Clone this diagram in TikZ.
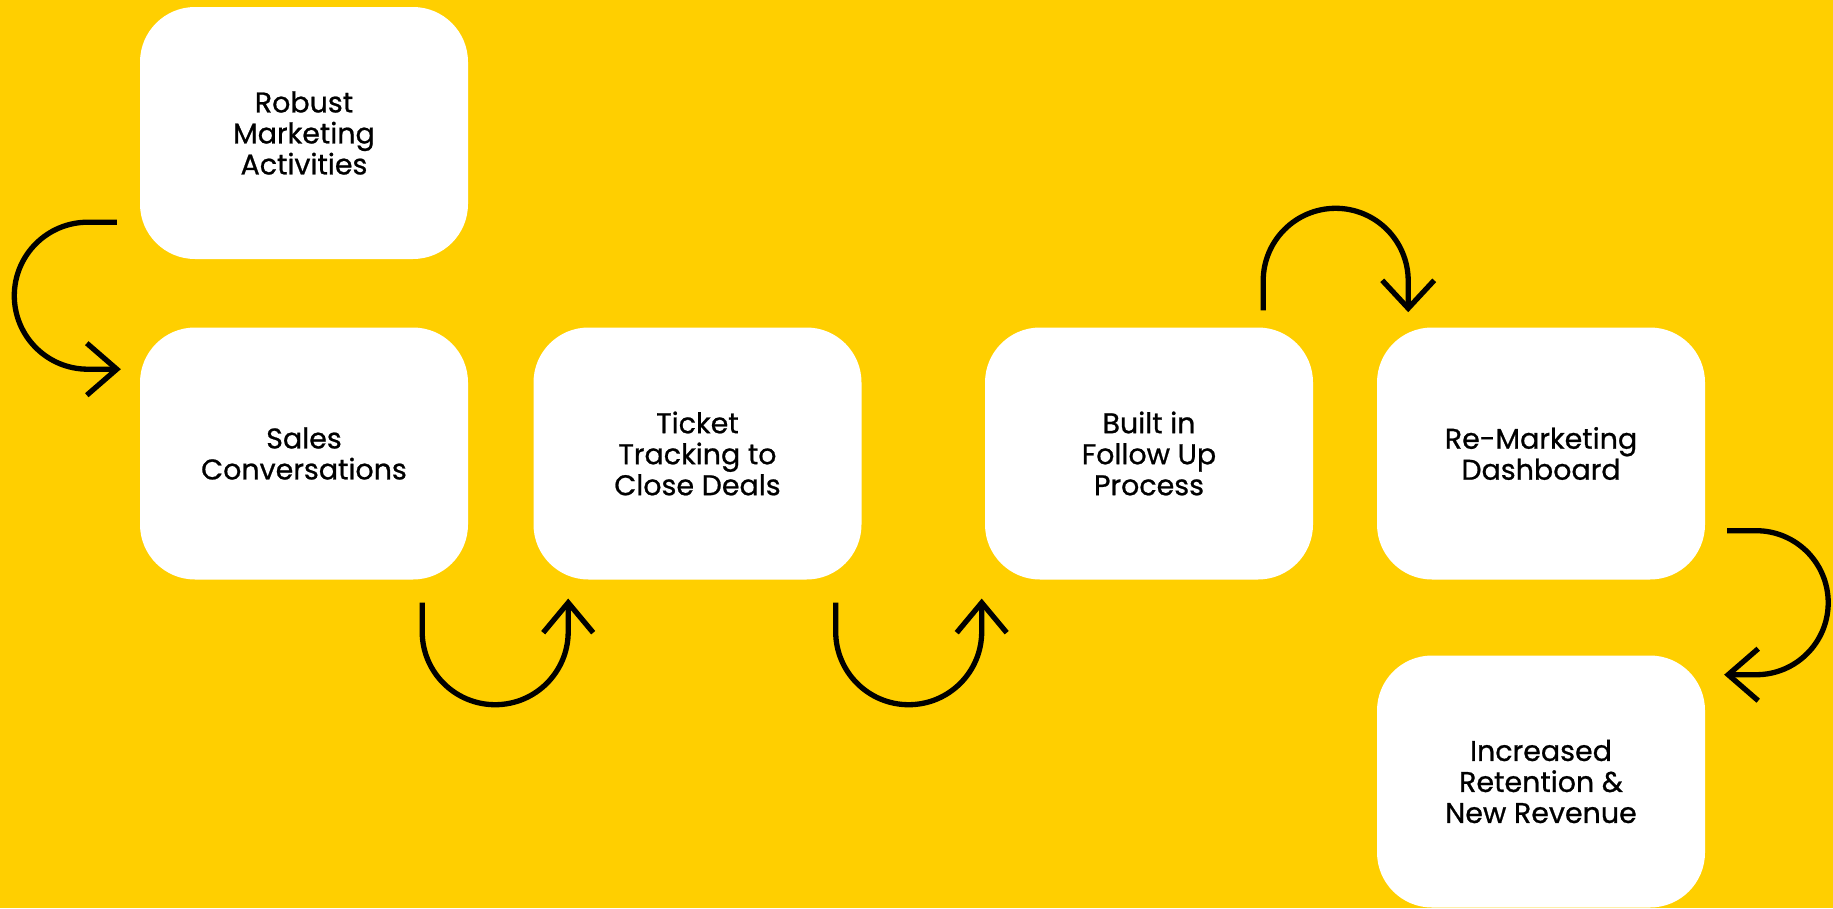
\documentclass[tikz,border=0pt]{standalone}
\usepackage{fontspec}
\setmainfont{Poppins}
\usetikzlibrary{calc}
\definecolor{bgyellow}{HTML}{FFCF00}
\tikzset{
  box/.style={fill=white, rounded corners=55pt, minimum width=328pt, minimum height=252pt,
    inner sep=0pt, align=center, text=black,
    font=\fontsize{28.5}{31}\selectfont\addfontfeatures{FakeBold=0.8}},
  flow/.style={line width=5.3pt, black, line cap=butt},
  chev/.style={line width=5.3pt, black, line join=miter, line cap=butt}
}
\begin{document}
\begin{tikzpicture}[x=1pt,y=1pt]
\path[fill=bgyellow] (0,0) rectangle (1833,-908);
\useasboundingbox (0,0) rectangle (1833,-908);

\node[box] (b1) at (304,-133) {Robust\\Marketing\\Activities};
\node[box] (b2) at (304,-453.5) {Sales\\Conversations};
\node[box] (b3) at (697.5,-453.5) {Ticket\\Tracking to\\Close Deals};
\node[box] (b4) at (1149,-453.5) {Built in\\Follow Up\\Process};
\node[box] (b5) at (1541,-453.5) {Re-Marketing\\Dashboard};
\node[box] (b6) at (1541,-781.5) {Increased\\Retention \&\\New Revenue};

% b1 -> b2
\draw[flow] ($(b1.south west)+(-23,37)$) -- ++(-29,0) arc(90:270:73.5) -- ++(29,0) coordinate (t1);
\draw[chev] ($(t1)+(-30,26)$) -- (t1) -- ($(t1)+(-30,-26)$);

% b2 -> b3
\draw[flow] ($(b2.south east)+(-46,-23)$) -- ++(0,-29) arc(180:360:73) -- ++(0,29) coordinate (t2);
\draw[chev] ($(t2)+(-25,-30)$) -- (t2) -- ($(t2)+(25,-30)$);

% b3 -> b4
\draw[flow] ($(b3.south east)+(-26,-23)$) -- ++(0,-29) arc(180:360:73) -- ++(0,29) coordinate (t3);
\draw[chev] ($(t3)+(-25,-30)$) -- (t3) -- ($(t3)+(25,-30)$);

% b4 -> b5
\draw[flow] ($(b4.north east)+(-50,17)$) -- ++(0,29.5) arc(180:0:72.5) -- ++(0,-27.5) coordinate (t4);
\draw[chev] ($(t4)+(-26,28)$) -- (t4) -- ($(t4)+(26,28)$);

% b5 -> b6
\draw[flow] ($(b5.south east)+(22,49)$) -- ++(29,0) arc(90:-90:72) -- ++(-28,0) coordinate (t5);
\draw[chev] ($(t5)+(30,26)$) -- (t5) -- ($(t5)+(30,-26)$);
\end{tikzpicture}
\end{document}
